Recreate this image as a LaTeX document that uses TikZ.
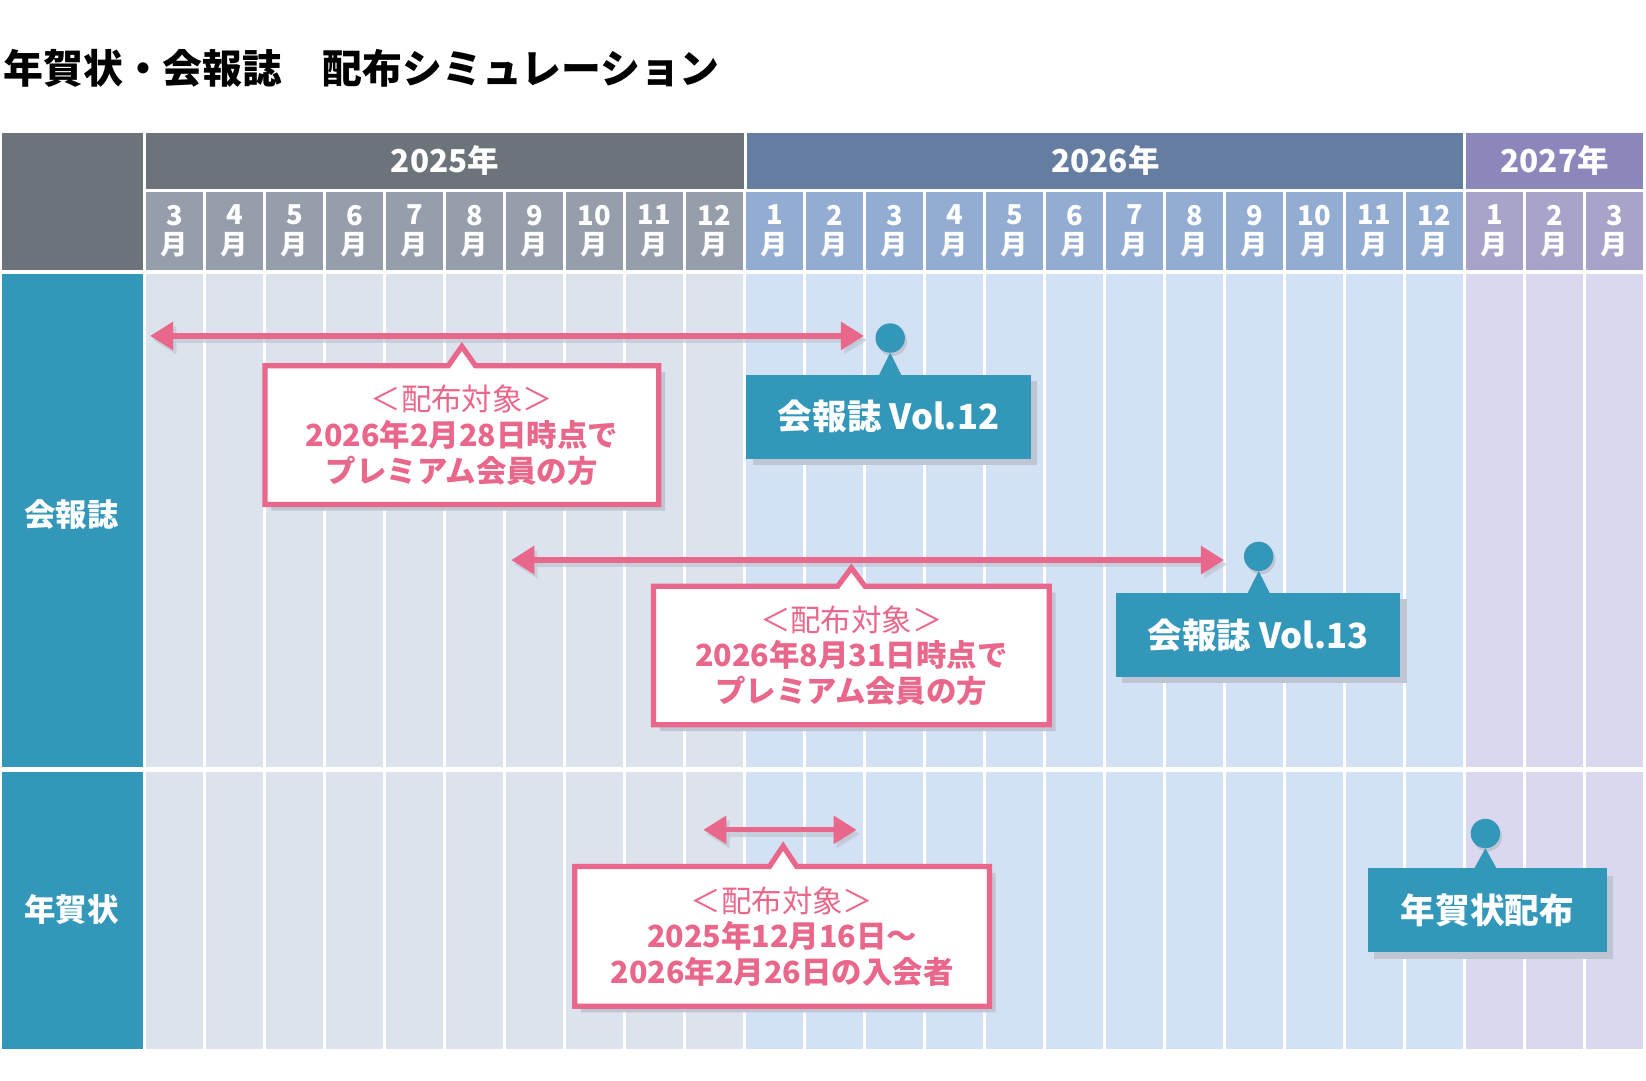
\documentclass[tikz,border=0pt]{standalone}
\usepackage{fontspec}
\setmainfont{Noto Sans CJK JP}
\usetikzlibrary{arrows.meta}
\definecolor{hdrgray}{HTML}{6D737B}
\definecolor{mon25}{HTML}{959EAA}
\definecolor{yr26}{HTML}{657DA1}
\definecolor{mon26}{HTML}{92ACD2}
\definecolor{yr27}{HTML}{8C87BA}
\definecolor{mon27}{HTML}{A8A3C9}
\definecolor{bg25}{HTML}{DCE3EC}
\definecolor{bg26}{HTML}{D3E1F5}
\definecolor{bg27}{HTML}{DAD8EF}
\definecolor{tealc}{HTML}{3397B9}
\definecolor{pinkc}{HTML}{E9678A}
\definecolor{shadowc}{HTML}{BEC6D3}
\newcommand\monthcol[4]{%
  \pgfmathsetmacro\xa{139+#1*57.16}%
  \pgfmathsetmacro\xb{\xa+54.16}%
  \fill[#3] (\xa,183) rectangle (\xb,257);
  \fill[#4] (\xa,261) rectangle (\xb,731);
  \fill[#4] (\xa,735) rectangle (\xb,999);
  \node[monthlbl] (m#1) at ({(\xa+\xb)/2},220) {#2\\月};
}
\newcommand\callout[6]{%
  \fill[shadowc] (#1+6,#2+6) -- (#5-13+6,#2+6) -- (#5+6,#6+6) -- (#5+13+6,#2+6) -- (#3+6,#2+6) -- (#3+6,#4+6) -- (#1+6,#4+6) -- cycle;
  \filldraw[callbox] (#1,#2) -- (#5-13,#2) -- (#5,#6) -- (#5+13,#2) -- (#3,#2) -- (#3,#4) -- (#1,#4) -- cycle;
}
\tikzset{
  monthlbl/.style={text=white, font=\bfseries\fontsize{26}{28}\selectfont, align=center, inner sep=0pt},
  yearlbl/.style={text=white, font=\bfseries\fontsize{30}{36}\selectfont, inner sep=0pt},
  rowlbl/.style={text=white, font=\bfseries\fontsize{30}{34}\selectfont, inner sep=0pt},
  pinkarrow/.style={draw=pinkc, line width=5pt, {Triangle[length=22pt,width=26pt]}-{Triangle[length=22pt,width=26pt]}},
  arrowshadow/.style={draw=shadowc, line width=5pt, {Triangle[length=22pt,width=26pt]}-{Triangle[length=22pt,width=26pt]}, opacity=0.7},
  callbox/.style={fill=white, draw=pinkc, line width=5pt},
  calltext/.style={text=pinkc, align=center, font=\bfseries\fontsize{29}{34}\selectfont, inner sep=0pt},
  tealbox/.style={fill=tealc, text=white, font=\bfseries\fontsize{33}{38}\selectfont, inner sep=0pt},
  dotc/.style={circle, fill=tealc, minimum size=28pt, inner sep=0pt},
}
\begin{document}
\begin{tikzpicture}[x=1pt,y=-1pt]
\useasboundingbox (0,0) rectangle (1568,1029);
\fill[white] (0,0) rectangle (1568,1029);
% title
\node[anchor=west, inner sep=0pt, font=\bfseries\fontsize{38}{44}\selectfont] (title) at (3,65) {年賀状・会報誌　配布シミュレーション};
% header
\fill[hdrgray] (2,127) rectangle (136,257);
\fill[hdrgray] (139,127) rectangle (708.6,180);
\fill[yr26] (711.6,127) rectangle (1393.5,180);
\fill[yr27] (1396.6,127) rectangle (1565,180);
\node[yearlbl] (y25) at (424,153) {2025年};
\node[yearlbl] (y26) at (1053,153) {2026年};
\node[yearlbl] (y27) at (1481,153) {2027年};
% rows
\fill[tealc] (2,261) rectangle (136,731);
\fill[tealc] (2,735) rectangle (136,999);
\node[rowlbl] (r1) at (68,490) {会報誌};
\node[rowlbl] (r2) at (68,866) {年賀状};
% month columns
\foreach \i/\m in {0/3,1/4,2/5,3/6,4/7,5/8,6/9,7/10,8/11,9/12}{\monthcol{\i}{\m}{mon25}{bg25}}
\foreach \i/\m in {10/1,11/2,12/3,13/4,14/5,15/6,16/7,17/8,18/9,19/10,20/11,21/12}{\monthcol{\i}{\m}{mon26}{bg26}}
\foreach \i/\m in {22/1,23/2,24/3}{\monthcol{\i}{\m}{mon27}{bg27}}
% arrows
\coordinate (a1l) at (143,320);
\coordinate (a1r) at (823,320);
\coordinate (a2l) at (487,533.5);
\coordinate (a2r) at (1166,533.5);
\coordinate (a3l) at (670,790.5);
\coordinate (a3r) at (816,790.5);
\draw[arrowshadow] ([shift={(3,4)}]a1l) -- ([shift={(3,4)}]a1r);
\draw[arrowshadow] ([shift={(3,4)}]a2l) -- ([shift={(3,4)}]a2r);
\draw[arrowshadow] ([shift={(3,4)}]a3l) -- ([shift={(3,4)}]a3r);
\draw[pinkarrow] (a1l) -- (a1r);
\draw[pinkarrow] (a2l) -- (a2r);
\draw[pinkarrow] (a3l) -- (a3r);
% callouts
\callout{252.5}{348.5}{627.5}{480.5}{440}{330}
\node[calltext] (c1) at (440,414.5) {{\mdseries ＜配布対象＞}\\2026年2月28日時点で\\プレミアム会員の方};
\callout{622.5}{558.5}{999.5}{690.5}{811}{541}
\node[calltext] (c2) at (811,624.5) {{\mdseries ＜配布対象＞}\\2026年8月31日時点で\\プレミアム会員の方};
\callout{547.5}{825.5}{942.5}{958.5}{746}{806}
\node[calltext] (c3) at (745,892) {{\mdseries ＜配布対象＞}\\2025年12月16日～\\2026年2月26日の入会者};
% markers
% Vol.12
\fill[shadowc] (717,363) rectangle (988,443);
\fill[shadowc] (850,325) circle (14);
\node[dotc] (d1) at (848,322) {};
\fill[tealc] (837,358) -- (848,336) -- (859,358) -- cycle;
\node[tealbox, minimum width=271pt, minimum height=80pt] (v12) at (846.5,397) {会報誌 Vol.12};
% Vol.13
\fill[shadowc] (1069,571) rectangle (1340,651);
\fill[shadowc] (1201,533) circle (14);
\node[dotc] (d2) at (1199,530) {};
\fill[tealc] (1188,566) -- (1199,544) -- (1210,566) -- cycle;
\node[tealbox, minimum width=271pt, minimum height=80pt] (v13) at (1198.5,605) {会報誌 Vol.13};
% nengajo
\fill[shadowc] (1309,834) rectangle (1537,914);
\fill[shadowc] (1417,797) circle (14);
\node[dotc] (d3) at (1415,794) {};
\fill[tealc] (1404,828) -- (1415,808) -- (1426,828) -- cycle;
\node[tealbox, minimum width=228pt, minimum height=80pt] (v3) at (1417,867) {年賀状配布};
\end{tikzpicture}
\end{document}
